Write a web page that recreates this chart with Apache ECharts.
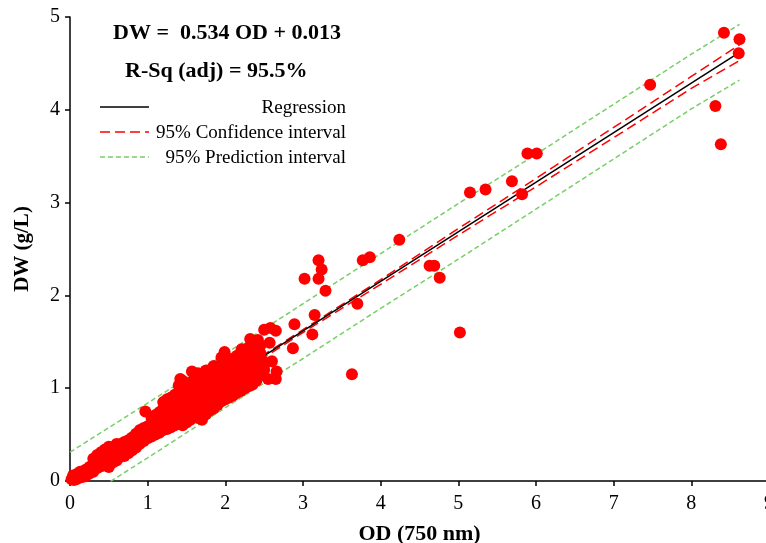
<!DOCTYPE html>
<html>
<head>
<meta charset="utf-8">
<script src="https://cdn.jsdelivr.net/npm/echarts@6/dist/echarts.min.js"></script>
<style>
html,body{margin:0;padding:0;background:#fff;}
#chart{width:766px;height:543px;}
</style>
</head>
<body>
<div id="chart"></div>
<script>
// ---- Data ----
const xTicks = [0, 1, 2, 3, 4, 5, 6, 7, 8, 9];
const yTicks = [0, 1, 2, 3, 4, 5];

// Dense cluster of observations (OD, DW)
const clusterPoints = [
  [0.02,0.02],[0.05,0.01],[0.04,0.06],[0.08,0.02],[0.10,0.03],[0.10,0.08],[0.13,0.10],
  [0.15,0.04],[0.15,0.09],[0.20,0.05],[0.20,0.12],[0.25,0.08],[0.25,0.15],
  [0.30,0.10],[0.30,0.17],[0.30,0.24],[0.35,0.14],[0.35,0.21],[0.35,0.28],
  [0.40,0.16],[0.40,0.23],[0.40,0.31],[0.45,0.17],[0.45,0.25],[0.45,0.34],
  [0.50,0.15],[0.50,0.22],[0.50,0.30],[0.50,0.37],[0.55,0.20],[0.55,0.27],[0.55,0.33],
  [0.60,0.22],[0.60,0.30],[0.60,0.40],[0.65,0.26],[0.65,0.33],[0.65,0.40],
  [0.70,0.27],[0.70,0.35],[0.70,0.42],[0.75,0.30],[0.75,0.37],[0.75,0.44],
  [0.80,0.33],[0.80,0.40],[0.80,0.47],[0.85,0.36],[0.85,0.43],[0.85,0.51],
  [0.90,0.40],[0.90,0.47],[0.90,0.55],[0.95,0.43],[0.95,0.49],[0.95,0.57],
  [0.97,0.75],
  [1.00,0.46],[1.00,0.52],[1.00,0.59],[1.05,0.48],[1.05,0.55],[1.05,0.62],[1.05,0.68],
  [1.10,0.50],[1.10,0.57],[1.10,0.64],[1.10,0.71],[1.15,0.52],[1.15,0.59],[1.15,0.66],[1.15,0.74],
  [1.20,0.55],[1.20,0.62],[1.20,0.69],[1.20,0.78],[1.20,0.85],
  [1.25,0.56],[1.25,0.64],[1.25,0.72],[1.25,0.80],[1.25,0.88],
  [1.30,0.58],[1.30,0.66],[1.30,0.74],[1.30,0.82],[1.30,0.90],
  [1.35,0.60],[1.35,0.68],[1.35,0.76],[1.35,0.84],[1.35,0.93],
  [1.40,0.62],[1.40,0.70],[1.40,0.78],[1.40,0.87],[1.40,0.96],[1.40,1.03],[1.42,1.10],
  [1.45,0.60],[1.45,0.68],[1.45,0.76],[1.45,0.84],[1.45,0.92],[1.45,1.00],[1.45,1.08],
  [1.50,0.63],[1.50,0.71],[1.50,0.80],[1.50,0.88],[1.50,0.96],[1.50,1.05],
  [1.55,0.66],[1.55,0.74],[1.55,0.82],[1.55,0.90],[1.55,0.98],[1.55,1.06],[1.57,1.18],
  [1.60,0.70],[1.60,0.78],[1.60,0.86],[1.60,0.94],[1.60,1.02],[1.60,1.10],
  [1.65,0.68],[1.65,0.76],[1.65,0.84],[1.65,0.92],[1.65,1.00],[1.65,1.08],[1.65,1.16],
  [1.70,0.66],[1.70,0.74],[1.70,0.82],[1.70,0.90],[1.70,0.98],[1.70,1.06],[1.70,1.14],
  [1.75,0.72],[1.75,0.80],[1.75,0.88],[1.75,0.96],[1.75,1.04],[1.75,1.12],[1.75,1.19],
  [1.80,0.76],[1.80,0.84],[1.80,0.92],[1.80,1.00],[1.80,1.08],[1.80,1.16],
  [1.85,0.78],[1.85,0.86],[1.85,0.94],[1.85,1.02],[1.85,1.10],[1.85,1.18],[1.85,1.24],
  [1.90,0.82],[1.90,0.90],[1.90,0.98],[1.90,1.06],[1.90,1.14],[1.90,1.22],
  [1.95,0.86],[1.95,0.94],[1.95,1.02],[1.95,1.10],[1.95,1.18],[1.95,1.26],[1.95,1.33],
  [2.00,0.88],[2.00,0.96],[2.00,1.04],[2.00,1.12],[2.00,1.20],[2.00,1.28],[1.99,1.39],
  [2.05,0.90],[2.05,0.98],[2.05,1.06],[2.05,1.14],[2.05,1.22],[2.05,1.30],
  [2.10,0.92],[2.10,1.00],[2.10,1.08],[2.10,1.16],[2.10,1.24],[2.10,1.32],
  [2.15,0.95],[2.15,1.03],[2.15,1.11],[2.15,1.19],[2.15,1.27],[2.15,1.35],
  [2.20,0.97],[2.20,1.05],[2.20,1.13],[2.20,1.21],[2.20,1.29],[2.20,1.37],[2.21,1.42],
  [2.25,1.00],[2.25,1.08],[2.25,1.16],[2.25,1.24],[2.25,1.32],[2.25,1.40],
  [2.30,1.02],[2.30,1.10],[2.30,1.18],[2.30,1.26],[2.30,1.34],[2.30,1.44],[2.32,1.53],
  [2.35,1.04],[2.35,1.12],[2.35,1.20],[2.35,1.28],[2.35,1.36],[2.35,1.44],
  [2.40,1.08],[2.40,1.16],[2.40,1.24],[2.40,1.32],[2.40,1.40],[2.42,1.52],
  [2.45,1.14],[2.45,1.22],[2.45,1.30],[2.45,1.38],[2.45,1.46],
  [2.50,1.20],[2.50,1.28],[2.51,1.27]
];

// Scattered observations at higher OD
const outlierPoints = [
  [2.50,1.63],[2.58,1.65],[2.65,1.62],[2.57,1.49],[2.60,1.29],[2.66,1.18],[2.65,1.10],[2.55,1.10],
  [2.87,1.43],[2.89,1.69],[3.02,2.18],[3.12,1.58],[3.15,1.79],[3.20,2.38],[3.20,2.18],[3.24,2.28],
  [3.29,2.05],[3.63,1.15],[3.70,1.91],[3.77,2.38],[3.86,2.41],[4.24,2.60],[4.63,2.32],[4.69,2.32],
  [4.76,2.19],[5.02,1.60],[5.15,3.11],[5.35,3.14],[5.69,3.23],[5.82,3.09],[5.89,3.53],[6.01,3.53],
  [7.47,4.27],[8.31,4.04],[8.38,3.63],[8.42,4.83],[8.62,4.76],[8.61,4.61]
];

// Fitted line and intervals
const regOD = [0.03, 8.62];
const regDW = [0.03, 4.62];
const intOD = [0, 1, 2, 3, 4, 5, 6, 7, 8, 8.62];
const ciUpper = [0.05, 0.57, 1.10, 1.63, 2.17, 2.72, 3.26, 3.81, 4.36, 4.70];
const ciLower = [-0.02, 0.53, 1.06, 1.60, 2.12, 2.65, 3.17, 3.70, 4.23, 4.53];
const piUpper = [0.31, 0.84, 1.37, 1.91, 2.45, 2.99, 3.52, 4.06, 4.60, 4.92];
const piLower = [-0.28, 0.25, 0.79, 1.32, 1.86, 2.39, 2.93, 3.47, 4.01, 4.32];

const legendItems = ['Regression', '95% Confidence interval', '95% Prediction interval'];
const eqText = 'DW =  0.534 OD + 0.013';
const rsqText = 'R-Sq (adj) = 95.5%';

// ---- Chart ----
const FONT = '"Liberation Serif", "Times New Roman", serif';
const RED = '#ff0000', GREEN = '#78cf68', BLACK = '#000000';
const zip = (a, b) => a.map((v, i) => [v, b[i]]);

const chart = echarts.init(document.getElementById('chart'), null, {renderer: 'canvas'});

const lineStyles = [
  {color: BLACK, width: 1.5, type: 'solid'},
  {color: RED, width: 1.5, type: [10, 5]},
  {color: GREEN, width: 1.5, type: [5, 3]}
];

const legendGraphics = [];
legendItems.forEach((name, i) => {
  const y = 107 + i * 25;
  legendGraphics.push({
    type: 'line', shape: {x1: 100, y1: y, x2: 149, y2: y},
    style: {stroke: lineStyles[i].color, lineWidth: lineStyles[i].width, lineDash: lineStyles[i].type === 'solid' ? null : lineStyles[i].type}
  });
  legendGraphics.push({
    type: 'text', x: 346, y: y + 1,
    style: {text: name, font: '19px ' + FONT, fill: '#000', textAlign: 'right', textVerticalAlign: 'middle'}
  });
});

chart.setOption({
  animation: false,
  grid: {left: 70, right: -3, top: 17, bottom: 62, containLabel: false, outerBoundsMode: 'none'},
  xAxis: {
    type: 'value', min: xTicks[0], max: xTicks[xTicks.length - 1], interval: 1,
    name: 'OD (750 nm)', nameLocation: 'middle', nameGap: 42,
    nameTextStyle: {fontFamily: FONT, fontWeight: 'bold', fontSize: 22, color: '#000'},
    axisLine: {lineStyle: {color: '#000', width: 1.5}},
    axisTick: {show: true, length: 5, lineStyle: {color: '#000', width: 1.5}},
    axisLabel: {fontFamily: FONT, fontSize: 20, color: '#000', margin: 13},
    splitLine: {show: false}
  },
  yAxis: {
    type: 'value', min: yTicks[0], max: yTicks[yTicks.length - 1], interval: 1,
    name: 'DW (g/L)', nameLocation: 'middle', nameGap: 37,
    nameTextStyle: {fontFamily: FONT, fontWeight: 'bold', fontSize: 21, color: '#000'},
    axisLine: {show: true, lineStyle: {color: '#000', width: 1.5}},
    axisTick: {show: true, length: 5, lineStyle: {color: '#000', width: 1.5}},
    axisLabel: {fontFamily: FONT, fontSize: 20, color: '#000', margin: 10},
    splitLine: {show: false}
  },
  graphic: [
    {type: 'text', x: 113, y: 33, style: {text: eqText, font: 'bold 22px ' + FONT, fill: '#000', textVerticalAlign: 'middle'}},
    {type: 'text', x: 125, y: 71, style: {text: rsqText, font: 'bold 22px ' + FONT, fill: '#000', textVerticalAlign: 'middle'}}
  ].concat(legendGraphics),
  series: [
    {name: 'PI upper', type: 'line', data: zip(intOD, piUpper), showSymbol: false, lineStyle: lineStyles[2], clip: true, silent: true, z: 2},
    {name: 'PI lower', type: 'line', data: zip(intOD, piLower), showSymbol: false, lineStyle: lineStyles[2], clip: true, silent: true, z: 2},
    {name: 'CI upper', type: 'line', data: zip(intOD, ciUpper), showSymbol: false, lineStyle: lineStyles[1], clip: true, silent: true, z: 2},
    {name: 'CI lower', type: 'line', data: zip(intOD, ciLower), showSymbol: false, lineStyle: lineStyles[1], clip: true, silent: true, z: 2},
    {name: 'Regression', type: 'line', data: zip(regOD, regDW), showSymbol: false, lineStyle: lineStyles[0], clip: true, silent: true, z: 2},
    {name: 'Observed', type: 'scatter', data: clusterPoints.concat(outlierPoints), symbolSize: 12,
     itemStyle: {color: RED, opacity: 1}, silent: true, clip: false, z: 5}
  ]
});
</script>
</body>
</html>
